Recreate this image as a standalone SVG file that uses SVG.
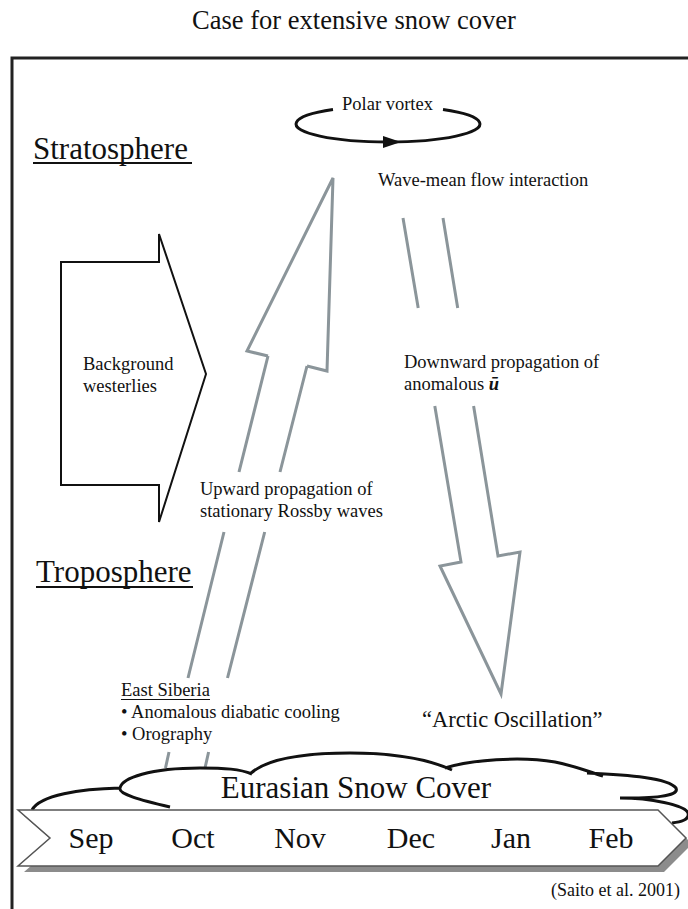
<svg xmlns="http://www.w3.org/2000/svg" width="688" height="909" viewBox="0 0 688 909">
<style>
text{font-family:"Liberation Serif","Times New Roman",serif;fill:#111}
.lbl{font-size:18.5px}
.big{font-size:31px}
.mon{font-size:30px;text-anchor:middle}
.gray{fill:none;stroke:#8b959a;stroke-width:3;stroke-linejoin:miter}
.blk{fill:none;stroke:#111;stroke-width:3}
.ul{stroke:#111}
</style>
<rect width="688" height="909" fill="#fff"/>
<text x="354" y="29" font-size="26.5" text-anchor="middle">Case for extensive snow cover</text>
<path d="M688,58 H12 V909" fill="none" stroke="#222" stroke-width="3"/>

<g id="labels">
<text x="33" y="159" class="big">Stratosphere</text>
<line x1="33" y1="163" x2="192" y2="163" class="ul" stroke-width="2"/>
<text x="36" y="582" class="big">Troposphere</text>
<line x1="36" y1="587" x2="193" y2="587" class="ul" stroke-width="2"/>
</g>

<g id="polar-vortex">
<path d="M443,109.6 A92,18 0 1 1 333,109.6" class="blk"/>
<polygon points="383,136 401,142 383,148" fill="#111"/>
<text x="342" y="110" class="lbl">Polar vortex</text>
</g>

<g id="wave-mean">
<text x="378" y="186" class="lbl">Wave-mean flow interaction</text>
</g>

<g id="westerlies">
<polygon points="61,262 159,262 159,234 206,374 159,522 159,485 61,485" fill="#fff" stroke="#111" stroke-width="2"/>
<text x="83" y="370" class="lbl">Background</text>
<text x="83" y="392" class="lbl">westerlies</text>
</g>

<g id="connectors">
<path id="upward" class="gray" d="M268,356 L247,351 L333,178 L327,371 L307,366 M268,356 L239,472 M224,532 L188,678 M169,752 L165.5,768 M307,366 L280,472 M264.7,532 L227.5,678 M208.6,752 L205,768"/>
<path id="downward" class="gray" d="M403,218 L418.2,308 M434.8,406 L461,562 L440,566 L501,694 L520,552 L498,556 L473.6,406 M457.7,308 L443,218"/>
</g>

<g id="upward-label">
<text x="200" y="495" class="lbl">Upward propagation of</text>
<text x="200" y="517" class="lbl">stationary Rossby waves</text>
</g>

<g id="downward-label">
<text x="404" y="368" class="lbl">Downward propagation of</text>
<text x="404" y="390" class="lbl">anomalous <tspan font-weight="bold" font-style="italic">ū</tspan></text>
</g>

<g id="east-siberia">
<text x="121" y="696" class="lbl">East Siberia</text>
<line x1="121" y1="699.5" x2="210" y2="699.5" class="ul" stroke-width="1.2"/>
<text x="121" y="718" class="lbl">• Anomalous diabatic cooling</text>
<text x="121" y="740" class="lbl">• Orography</text>
</g>

<g id="arctic-oscillation">
<text x="422" y="727" font-size="22.5">“Arctic Oscillation”</text>
</g>

<g id="snow-cover">
<path class="blk" d="M32,810 C40,795 80,789 120,788 M170,807 C140,800 118,794 120,788 C122,778 150,768 200,768 C225,768 240,769 252,774 M250,774 C265,760 300,753 350,753 C400,753 430,760 452,770 M445,768 C470,760 520,756 555,762 C575,766 590,772 603,776 M587,773 C630,775 668,778 676,788 C680,797 650,798 620,798 M620,798 C650,798 685,805 688,813 C690,820 680,822 672,823"/>
<text x="356" y="798" class="big" text-anchor="middle">Eurasian Snow Cover</text>
</g>

<g id="timeline">
<polygon points="24,816 664,816 692,844 664,872 24,872 56,844" fill="#8c8c8c"/>
<polygon points="18,810 658,810 686,838 658,866 18,866 50,838" fill="#fff" stroke="#555" stroke-width="1.5"/>
<text x="91" y="848" class="mon">Sep</text>
<text x="193" y="848" class="mon">Oct</text>
<text x="300" y="848" class="mon">Nov</text>
<text x="411" y="848" class="mon">Dec</text>
<text x="511" y="848" class="mon">Jan</text>
<text x="611" y="848" class="mon">Feb</text>
</g>

<text x="680" y="896" font-size="18" text-anchor="end">(Saito et al. 2001)</text>
</svg>
